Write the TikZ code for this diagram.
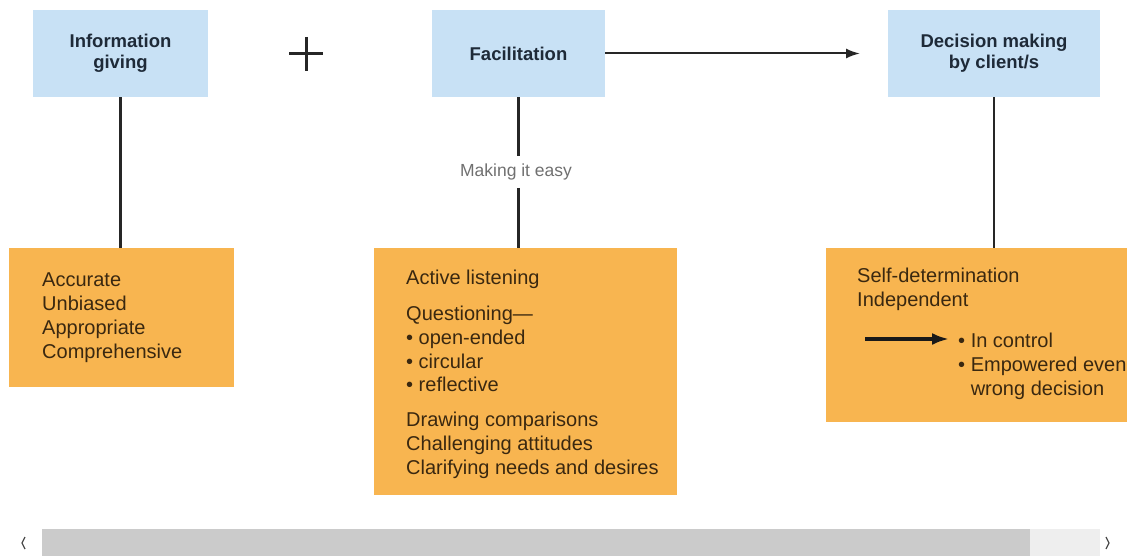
\documentclass[tikz,border=0pt]{standalone}
\usepackage{fontspec}
\setmainfont{Liberation Sans}
\usetikzlibrary{arrows.meta}
\definecolor{hdrblue}{HTML}{C8E1F5}
\definecolor{boxorange}{HTML}{F8B550}
\definecolor{hdrtext}{HTML}{1E2A38}
\definecolor{bodytext}{HTML}{3A2810}
\definecolor{lbl}{HTML}{707070}
\definecolor{scrollgray}{HTML}{CBCBCB}
\definecolor{scrolllight}{HTML}{EEEEEE}
\begin{document}
\begin{tikzpicture}[x=1pt,y=-1pt,
  hdr/.style={fill=hdrblue,draw=none,minimum width=#1,minimum height=87pt,inner sep=0pt,
    align=center,text=hdrtext,font=\fontsize{18.5}{21}\selectfont\bfseries},
  obox/.style={fill=boxorange,draw=none,inner sep=0pt},
  otext/.style={anchor=north west,inner sep=0pt,align=left,text=bodytext,
    font=\fontsize{20}{23.8}\selectfont},
  conn/.style={line width=2.8pt,draw=black!85},
  flow/.style={line width=2pt,draw=black!85,-{Latex[length=14pt,width=10pt]}}
]
\useasboundingbox (0,0) rectangle (1127,556);
\clip (0,0) rectangle (1127,556);

% header boxes
\node[hdr=175pt] (info) at (120.5,53.5) {Information\\giving};
\node[hdr=173pt] (fac) at (518.5,53.5) {Facilitation};
\node[hdr=212pt] (dec) at (994,53.5) {Decision making\\by client/s};

% plus sign
\draw[line width=3pt,black!85] (289,54) -- (323,54) (306,37) -- (306,71);

% arrow between facilitation and decision
\coordinate (arrend) at (860,53.5);
\draw[flow] (fac.east) -- (arrend);

% orange boxes
\node[obox,minimum width=225pt,minimum height=139pt] (b1) at (121.5,317.5) {};
\node[obox,minimum width=303pt,minimum height=247pt] (b2) at (525.5,371.5) {};
\node[obox,minimum width=310pt,minimum height=174pt] (b3) at (981,335) {};

% connectors
\draw[conn] (info.south) -- (info.south |- b1.north);
\node[text=lbl,font=\fontsize{17.5}{20}\selectfont,inner xsep=2pt,inner ysep=7.5pt] (mk) at (516,172) {Making it easy};
\draw[conn] (fac.south) -- (fac.south |- mk.north);
\draw[conn] (fac.south |- mk.south) -- (fac.south |- b2.north);
\draw[conn] (dec.south) -- (dec.south |- b3.north);

% texts
\node[otext] (t1) at (42,273) {Accurate\\Unbiased\\Appropriate\\Comprehensive};
\node[otext] (t2) at (406,270) {Active listening\\[12pt]Questioning—\\• open-ended\\• circular\\• reflective\\[11pt]Drawing comparisons\\Challenging attitudes\\Clarifying needs and desires};
\node[otext] (t3) at (857,268) {Self-determination\\Independent};
\node[otext] (t4) at (958,333) {• In control\\• Empowered even\\\phantom{• }wrong decision};

% inner arrow
\coordinate (ia) at (865,339);
\coordinate (iae) at (949,339);
\draw[line width=3.2pt,black!90,-{Latex[length=17pt,width=12pt]}] (ia) -- (iae);

% scrollbar
\fill[scrolllight] (1030,529) rectangle (1100,556);
\fill[scrollgray] (42,529) rectangle (1030,556);
\draw[black!70,line width=1.2pt] (25,537) -- (22,543) -- (25,549);
\draw[black!70,line width=1.2pt] (1106,537) -- (1109,543) -- (1106,549);
\end{tikzpicture}
\end{document}
